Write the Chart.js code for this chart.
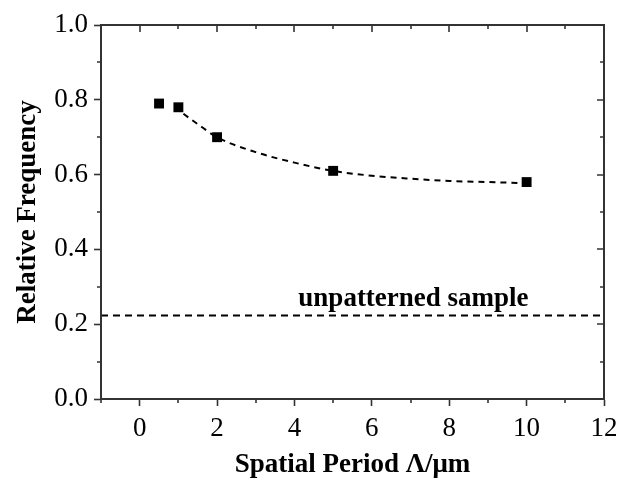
<!DOCTYPE html>
<html>
<head>
<meta charset="utf-8">
<script src="https://cdn.jsdelivr.net/npm/chart.js@4.4.0/dist/chart.umd.min.js"></script>
<style>
  html, body { margin: 0; padding: 0; background: #fff; }
  #wrap { width: 625px; height: 481px; }
</style>
</head>
<body>
<div id="wrap"><canvas id="c" width="625" height="481"></canvas></div>
<script>
// Measured data points
const periods = [0.5, 1, 2, 5, 10];
const relFreq = [0.79, 0.78, 0.70, 0.61, 0.58];
// Fitted decay curve
const fitX = [0.9, 1.5, 2, 3, 4, 5, 6, 7, 8, 9, 10];
const fitY = [0.780, 0.735, 0.700, 0.660, 0.632, 0.610, 0.597, 0.589, 0.583, 0.580, 0.577];
// Unpatterned reference level
const refX = [-1, 12];
const refY = [0.223, 0.223];
const refLabel = 'unpatterned sample';
// Axes
const xMajorTicks = [0, 2, 4, 6, 8, 10, 12];
const xMinorTicks = [-1, 1, 3, 5, 7, 9, 11];
const yMajorTicks = [0.0, 0.2, 0.4, 0.6, 0.8, 1.0];
const yMinorTicks = [0.1, 0.3, 0.5, 0.7, 0.9];
const xTitle = 'Spatial Period \u039B/\u03BCm';
const yTitle = 'Relative Frequency';

const AX = '#333';
const FONT = "'Liberation Serif', 'Times New Roman', serif";

const frameTicks = {
  id: 'frameTicks',
  afterDatasetsDraw(chart) {
    const {ctx, chartArea: a, scales: {x, y}} = chart;
    ctx.save();
    ctx.strokeStyle = AX;
    ctx.lineWidth = 2;
    ctx.strokeRect(a.left, a.top, a.right - a.left, a.bottom - a.top);
    ctx.lineWidth = 1.6;
    ctx.beginPath();
    xMinorTicks.forEach(v => {
      const px = Math.round(x.getPixelForValue(v));
      ctx.moveTo(px, a.bottom); ctx.lineTo(px, a.bottom + 4);
      ctx.moveTo(px, a.top); ctx.lineTo(px, a.top + 4);
    });
    xMajorTicks.forEach(v => {
      const px = Math.round(x.getPixelForValue(v));
      ctx.moveTo(px, a.top); ctx.lineTo(px, a.top + 7);
    });
    yMinorTicks.forEach(v => {
      const py = Math.round(y.getPixelForValue(v));
      ctx.moveTo(a.left - 4, py); ctx.lineTo(a.left, py);
      ctx.moveTo(a.right - 4, py); ctx.lineTo(a.right, py);
    });
    yMajorTicks.forEach(v => {
      const py = Math.round(y.getPixelForValue(v));
      ctx.moveTo(a.right - 7, py); ctx.lineTo(a.right, py);
    });
    ctx.stroke();
    ctx.fillStyle = '#000';
    ctx.font = "bold 27px " + FONT;
    ctx.textAlign = 'left';
    ctx.textBaseline = 'alphabetic';
    ctx.fillText(refLabel, x.getPixelForValue(4.1), y.getPixelForValue(0.249));
    ctx.restore();
  }
};

new Chart(document.getElementById('c'), {
  type: 'scatter',
  data: {
    datasets: [
      {
        label: 'fit',
        data: fitX.map((v, i) => ({x: v, y: fitY[i]})),
        showLine: true,
        borderColor: '#000',
        borderWidth: 2,
        borderDash: [6, 5],
        pointRadius: 0,
        cubicInterpolationMode: 'monotone',
        order: 2
      },
      {
        label: 'unpatterned',
        data: refX.map((v, i) => ({x: v, y: refY[i]})),
        showLine: true,
        borderColor: '#000',
        borderWidth: 2,
        borderDash: [7, 5],
        pointRadius: 0,
        order: 3
      },
      {
        label: 'data',
        data: periods.map((v, i) => ({x: v, y: relFreq[i]})),
        pointStyle: 'rect',
        pointRadius: 7,
        backgroundColor: '#000',
        borderColor: '#000',
        borderWidth: 0,
        order: 1
      }
    ]
  },
  options: {
    responsive: false,
    animation: false,
    devicePixelRatio: 1,
    layout: { padding: { top: 25, right: 21, left: 0, bottom: 0 } },
    plugins: { legend: { display: false }, tooltip: { enabled: false } },
    scales: {
      x: {
        type: 'linear',
        min: -1, max: 12,
        afterBuildTicks(s) { s.ticks = xMajorTicks.map(v => ({value: v})); },
        afterFit(s) { s.height = 82; },
        grid: { drawOnChartArea: false, drawTicks: true, tickLength: 7, tickWidth: 1.6, tickColor: AX },
        border: { display: true, color: AX, width: 2 },
        ticks: { color: '#000', font: { family: FONT, size: 27 }, padding: 7, maxRotation: 0,
                 callback: v => String(v) },
        title: { display: true, text: xTitle, color: '#000', font: { family: FONT, size: 27, weight: 'bold' }, padding: { top: 2, bottom: 0 } }
      },
      y: {
        type: 'linear',
        min: 0, max: 1,
        afterBuildTicks(s) { s.ticks = yMajorTicks.map(v => ({value: v})); },
        afterFit(s) { s.width = 101; },
        grid: { drawOnChartArea: false, drawTicks: true, tickLength: 7, tickWidth: 1.6, tickColor: AX },
        border: { display: true, color: AX, width: 2 },
        ticks: { color: '#000', font: { family: FONT, size: 27 }, padding: 6,
                 callback: v => Number(v).toFixed(1) },
        title: { display: true, text: yTitle, color: '#000', font: { family: FONT, size: 27, weight: 'bold' }, padding: { top: 12, bottom: 0 } }
      }
    }
  },
  plugins: [frameTicks]
});
</script>
</body>
</html>
